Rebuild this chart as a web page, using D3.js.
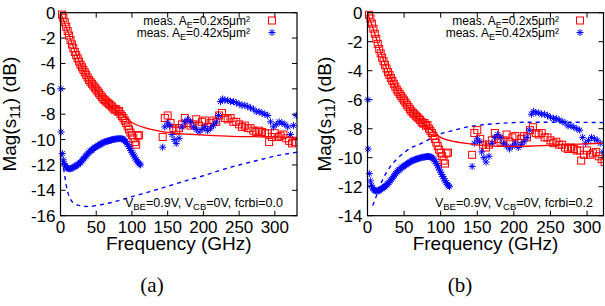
<!DOCTYPE html>
<html>
<head>
<meta charset="utf-8">
<script src="https://cdn.jsdelivr.net/npm/d3@7"></script>
<style>
  body { margin: 0; background: #fff; }
  text { font-family: "Liberation Sans", Arial, sans-serif; }
</style>
</head>
<body>
<svg id="chart" width="605" height="306"></svg>
<script>
// measured data, same device in both panels: [GHz, dB]
var measSmall = [
  [2, -0.15], [4, -0.4], [6, -0.75], [8, -1.1], [10, -1.45], [12, -1.8], [14, -2.15],
  [16, -2.5], [18, -2.8], [20, -3.1], [22, -3.35], [24, -3.6], [26, -3.85], [28, -4.1],
  [30, -4.3], [32, -4.5], [34, -4.7], [36, -4.9], [38, -5.1], [40, -5.3], [42, -5.45],
  [44, -5.6], [46, -5.75], [48, -5.9], [50, -6.05], [52, -6.2], [54, -6.35], [56, -6.5],
  [58, -6.65], [60, -6.8], [62, -6.9], [64, -7.0], [66, -7.1], [68, -7.2], [70, -7.3],
  [72, -7.4], [74, -7.55], [76, -7.65], [78, -7.6], [80, -7.8], [82, -7.75], [84, -8.0],
  [86, -8.15], [88, -8.3], [90, -8.5], [92, -8.7], [94, -8.95], [96, -9.2], [98, -9.45],
  [100, -9.65], [102, -9.9], [104, -10.2], [106, -10.4], [108, -9.7], [110, -9.65],
  [143, -9.8], [146, -8.3], [150, -8.1], [154, -8.7], [158, -9.1], [162, -9.3], [166, -9.1],
  [170, -8.8], [174, -8.3], [178, -8.7], [182, -8.9], [186, -8.8], [190, -8.4], [194, -8.9],
  [198, -8.6], [202, -8.5], [206, -9.0], [210, -8.7], [214, -8.5], [218, -8.6], [222, -8.1],
  [226, -7.9], [230, -8.3], [234, -8.4], [238, -8.3], [242, -8.6], [246, -8.6], [250, -8.8],
  [254, -9.0], [258, -8.9], [262, -9.1], [266, -9.1], [270, -9.3], [274, -9.4], [278, -9.3],
  [282, -9.4], [286, -9.5], [290, -9.5], [292, -10.2], [296, -9.8], [300, -9.5], [304, -9.8],
  [308, -9.7], [312, -9.6], [316, -9.9], [320, -10.1], [324, -10.3], [328, -10.2]
];

var measLarge = [
  [0.5, -6.0], [0.8, -9.4], [2.5, -11.1], [4, -11.6], [5.5, -11.9], [7, -12.1], [8.5, -12.2],
  [10, -12.25], [11.5, -12.3], [13, -12.3], [14.5, -12.3], [16, -12.25], [17.5, -12.2],
  [19, -12.15], [20.5, -12.1], [22, -12.05], [23.5, -12.0], [25, -11.95], [26.5, -11.85],
  [28, -11.8], [29.5, -11.7], [31, -11.6], [32.5, -11.5], [34, -11.4], [35.5, -11.3],
  [37, -11.2], [38.5, -11.1], [40, -11.0], [41.5, -10.9], [43, -10.85], [44.5, -10.8],
  [46, -10.7], [47.5, -10.65], [49, -10.6], [50.5, -10.55], [52, -10.5], [53.5, -10.45],
  [55, -10.4], [56.5, -10.35], [58, -10.3], [59.5, -10.25], [61, -10.2], [62.5, -10.18],
  [64, -10.15], [65.5, -10.12], [67, -10.1], [68.5, -10.07], [70, -10.05], [71.5, -10.03],
  [73, -10.0], [74.5, -9.98], [76, -9.97], [77.5, -9.95], [79, -9.94], [80.5, -9.93],
  [82, -9.92], [83.5, -9.92], [85, -9.93], [86.5, -9.95], [88, -9.98], [89.5, -10.05],
  [91, -10.15], [92.5, -10.28], [94, -10.4], [95.5, -10.55], [97, -10.7], [98.5, -10.85],
  [100, -11.0], [101.5, -11.15], [103, -11.3], [104.5, -11.45], [106, -11.6], [107.5, -11.72],
  [109, -11.83], [110.5, -11.92], [112, -12.0],
  [143, -10.6], [146, -9.0], [150, -8.7], [153, -8.9], [156, -9.6], [159, -10.0], [162, -10.3],
  [166, -9.9], [170, -9.0], [174, -8.6], [178, -8.4], [182, -8.6], [186, -9.0], [190, -9.2],
  [194, -9.4], [198, -9.2], [202, -9.0], [206, -9.3], [210, -9.1], [214, -8.9], [218, -8.6],
  [221, -8.1], [224, -7.0], [227, -6.8], [230, -6.9], [234, -6.9], [238, -7.0], [242, -7.0],
  [246, -7.1], [250, -7.2], [254, -7.3], [258, -7.3], [262, -7.4], [266, -7.5], [270, -7.6],
  [274, -7.8], [278, -7.8], [282, -7.9], [286, -8.0], [290, -8.1], [294, -8.6], [298, -9.0],
  [302, -8.8], [306, -8.6], [310, -8.7], [314, -8.8], [318, -9.0], [322, -9.6], [326, -8.9],
  [330, -8.1]
];

// model curves
var modelSmallA = [
  [0, 0], [5, -0.7], [10, -1.45], [20, -3.0], [30, -4.3], [40, -5.3], [50, -6.1], [60, -6.8],
  [70, -7.35], [80, -7.8], [90, -8.2], [100, -8.65], [120, -9.1], [140, -9.35], [160, -9.5],
  [180, -9.58], [200, -9.64], [240, -9.74], [280, -9.78], [331, -9.82]
];
var modelLargeA = [
  [1.5, -11.0], [3, -11.8], [5, -12.5], [8, -13.6], [11, -14.3], [15, -14.8], [20, -15.05],
  [27, -15.2], [35, -15.27], [45, -15.25], [55, -15.15], [70, -14.98], [85, -14.75],
  [100, -14.5], [125, -14.1], [150, -13.68], [175, -13.25], [200, -12.85], [225, -12.4],
  [250, -12.0], [275, -11.65], [300, -11.3], [331, -11.0]
];
var modelSmallB = [
  [0, 0], [5, -0.7], [10, -1.45], [20, -3.0], [30, -4.3], [40, -5.3], [50, -6.1], [60, -6.8],
  [70, -7.35], [80, -7.8], [90, -8.2], [100, -8.6], [120, -8.9], [140, -9.05], [160, -9.17],
  [180, -9.22], [200, -9.22], [230, -9.18], [260, -9.12], [290, -9.06], [323, -9.0]
];
var modelLargeB = [
  [7, -13.3], [11, -12.8], [15, -12.2], [20, -11.6], [25, -11.1], [30, -10.7], [40, -10.1],
  [50, -9.65], [60, -9.3], [70, -9.1], [80, -8.85], [90, -8.55], [100, -8.35], [115, -8.15],
  [130, -7.95], [150, -7.78], [175, -7.65], [200, -7.58], [230, -7.55], [260, -7.55],
  [290, -7.56], [323, -7.58]
];

var xTicks = [0, 50, 100, 150, 200, 250, 300];
var yTicksA = [0, -2, -4, -6, -8, -10, -12, -14, -16];
var yTicksB = [0, -2, -4, -6, -8, -10, -12, -14];

var panels = [
  { id: "a", left: 60.5, right: 297, xMax: 331, yMin: -16, yTicks: yTicksA,
    lineSmall: modelSmallA, lineLarge: modelLargeA, fcrbi: "0.0",
    legEnd: 250, legMark: 272, noteEnd: 283, ylabX: 16, caption: "(a)", capX: 152 },
  { id: "b", left: 367.5, right: 603.5, xMax: 322.5, yMin: -14, yTicks: yTicksB,
    lineSmall: modelSmallB, lineLarge: modelLargeB, fcrbi: "0.2",
    legEnd: 559, legMark: 580, noteEnd: 593, ylabX: 331, caption: "(b)", capX: 460 }
];

var plotTop = 12.7, plotBottom = 215.7;
var svg = d3.select("#chart");

function asterisk(r) {
  var d = r * 0.72;
  return "M" + (-r) + ",0L" + r + ",0M0," + (-r) + "L0," + r +
    "M" + (-d) + "," + (-d) + "L" + d + "," + d + "M" + (-d) + "," + d + "L" + d + "," + (-d);
}

panels.forEach(function (p) {
  var x = d3.scaleLinear().domain([0, p.xMax]).range([p.left, p.right]);
  var y = d3.scaleLinear().domain([p.yMin, 0]).range([plotBottom, plotTop]);
  var g = svg.append("g");

  g.append("clipPath").attr("id", "clip-" + p.id)
    .append("rect")
    .attr("x", p.left - 4).attr("y", plotTop - 4)
    .attr("width", p.right - p.left + 4).attr("height", plotBottom - plotTop + 8);

  // ticks, mirrored on all sides, pointing inward
  var tickLen = 5;
  g.selectAll(".xt").data(xTicks).join("path")
    .attr("d", function (d) {
      return "M" + x(d) + "," + plotBottom + "v" + (-tickLen) + "M" + x(d) + "," + plotTop + "v" + tickLen;
    })
    .attr("stroke", "#000").attr("stroke-width", 1);
  g.selectAll(".yt").data(p.yTicks).join("path")
    .attr("d", function (d) {
      return "M" + p.left + "," + y(d) + "h" + tickLen + "M" + p.right + "," + y(d) + "h" + (-tickLen);
    })
    .attr("stroke", "#000").attr("stroke-width", 1);

  g.selectAll(".xl").data(xTicks).join("text")
    .attr("x", function (d) { return x(d); })
    .attr("y", 233)
    .attr("text-anchor", "middle")
    .attr("font-size", 17)
    .text(function (d) { return d; });
  g.selectAll(".yl").data(p.yTicks).join("text")
    .attr("x", p.left - 5)
    .attr("y", function (d) { return y(d) + 6; })
    .attr("text-anchor", "end")
    .attr("font-size", 17)
    .text(function (d) { return d; });

  var plot = g.append("g").attr("clip-path", "url(#clip-" + p.id + ")");

  var line = d3.line()
    .x(function (d) { return x(d[0]); })
    .y(function (d) { return y(d[1]); })
    .curve(d3.curveMonotoneX);

  plot.append("path").datum(p.lineLarge)
    .attr("d", line).attr("fill", "none")
    .attr("stroke", "#0000ff").attr("stroke-width", 1.4)
    .attr("stroke-dasharray", "4,4");

  plot.selectAll(".ms").data(measSmall).join("rect")
    .attr("x", function (d) { return x(d[0]) - 3.5; })
    .attr("y", function (d) { return y(d[1]) - 3.5; })
    .attr("width", 7).attr("height", 7)
    .attr("fill", "none").attr("stroke", "#ff0000").attr("stroke-width", 1);

  plot.selectAll(".ml").data(measLarge).join("path")
    .attr("transform", function (d) { return "translate(" + x(d[0]) + "," + y(d[1]) + ")"; })
    .attr("d", asterisk(3.5))
    .attr("fill", "none").attr("stroke", "#0000ff").attr("stroke-width", 1);

  plot.append("path").datum(p.lineSmall)
    .attr("d", line).attr("fill", "none")
    .attr("stroke", "#ff0000").attr("stroke-width", 1.3);

  // border
  g.append("rect")
    .attr("x", p.left).attr("y", plotTop)
    .attr("width", p.right - p.left).attr("height", plotBottom - plotTop)
    .attr("fill", "none").attr("stroke", "#000").attr("stroke-width", 1.2);

  // legend
  var leg1 = g.append("text").attr("x", p.legEnd).attr("y", 24.5)
    .attr("text-anchor", "end").attr("font-size", 12);
  leg1.append("tspan").text("meas. A");
  leg1.append("tspan").attr("dy", 3).attr("font-size", 9).text("E");
  leg1.append("tspan").attr("dy", -3).text("=0.2x5\u03bcm\u00b2");
  var leg2 = g.append("text").attr("x", p.legEnd).attr("y", 36.5)
    .attr("text-anchor", "end").attr("font-size", 12);
  leg2.append("tspan").text("meas. A");
  leg2.append("tspan").attr("dy", 3).attr("font-size", 9).text("E");
  leg2.append("tspan").attr("dy", -3).text("=0.42x5\u03bcm\u00b2");
  g.append("rect").attr("x", p.legMark - 3.5).attr("y", 20.5 - 3.5)
    .attr("width", 7).attr("height", 7)
    .attr("fill", "none").attr("stroke", "#ff0000").attr("stroke-width", 1);
  g.append("path").attr("transform", "translate(" + p.legMark + ",32.5)")
    .attr("d", asterisk(3.5)).attr("fill", "none")
    .attr("stroke", "#0000ff").attr("stroke-width", 1);

  // bias note
  var note = g.append("text").attr("x", p.noteEnd).attr("y", 207)
    .attr("text-anchor", "end").attr("font-size", 12.5);
  note.append("tspan").text("V");
  note.append("tspan").attr("dy", 3).attr("font-size", 9.5).text("BE");
  note.append("tspan").attr("dy", -3).text("=0.9V, V");
  note.append("tspan").attr("dy", 3).attr("font-size", 9.5).text("CB");
  note.append("tspan").attr("dy", -3).text("=0V, fcrbi=" + p.fcrbi);

  // axis titles
  g.append("text")
    .attr("x", (p.left + p.right) / 2).attr("y", 250)
    .attr("text-anchor", "middle").attr("font-size", 19)
    .text("Frequency (GHz)");
  var yl = g.append("text")
    .attr("transform", "translate(" + p.ylabX + "," + ((plotTop + plotBottom) / 2) + ") rotate(-90)")
    .attr("text-anchor", "middle").attr("font-size", 19);
  yl.append("tspan").text("Mag(s");
  yl.append("tspan").attr("dy", 4).attr("font-size", 14).text("11");
  yl.append("tspan").attr("dy", -4).text(") (dB)");

  g.append("text")
    .attr("x", p.capX).attr("y", 292)
    .attr("text-anchor", "middle")
    .attr("font-size", 21)
    .style("font-family", "'Liberation Serif', 'Times New Roman', serif")
    .text(p.caption);
});
</script>
</body>
</html>
